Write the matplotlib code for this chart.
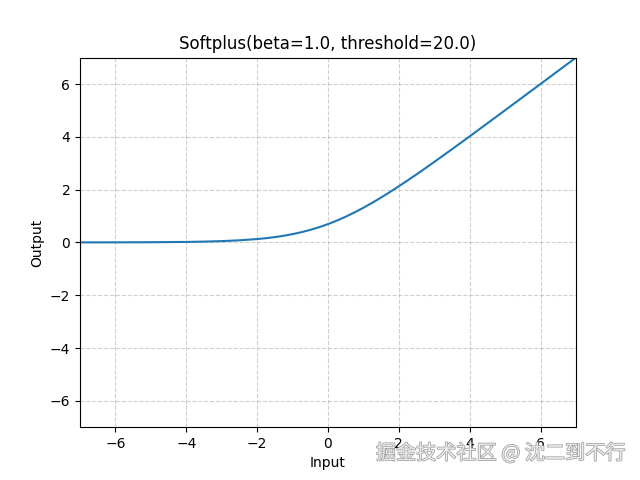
import matplotlib.pyplot as plt
import matplotlib.patheffects as pe

# values
x_vals = [-7.0, -6.0, -5.0, -4.0, -3.5, -3.0, -2.5, -2.0, -1.75, -1.5, -1.25, -1.0,
          -0.75, -0.5, -0.25, 0.0, 0.25, 0.5, 0.75, 1.0, 1.25, 1.5, 1.75, 2.0,
          2.25, 2.5, 2.75, 3.0, 3.5, 4.0, 5.0, 6.0, 7.0]
y_vals = [0.001, 0.002, 0.007, 0.018, 0.03, 0.049, 0.079, 0.127, 0.160, 0.201, 0.251, 0.313,
          0.387, 0.474, 0.576, 0.693, 0.826, 0.974, 1.137, 1.313, 1.501, 1.701, 1.910, 2.127,
          2.350, 2.579, 2.811, 3.049, 3.530, 4.018, 5.007, 6.002, 7.001]

fig, ax = plt.subplots(figsize=(6.4, 4.8), dpi=100)
ax.plot(x_vals, y_vals)
ax.set_xlim(-7, 7)
ax.set_ylim(-7, 7)
ax.set_title("Softplus(beta=1.0, threshold=20.0)")
ax.set_xlabel("Input")
ax.set_ylabel("Output")
ax.grid(True, linestyle="--", alpha=0.6)

# watermark
fig.text(0.977, 0.055, "掘金技术社区 @ 沈二到不行", ha="right", va="center",
         fontsize=14.5, color="#ececec",
         family=["Noto Sans CJK SC", "DejaVu Sans"],
         path_effects=[pe.withStroke(linewidth=1.0, foreground="#9a9a9a")])

fig.savefig("out.png")
